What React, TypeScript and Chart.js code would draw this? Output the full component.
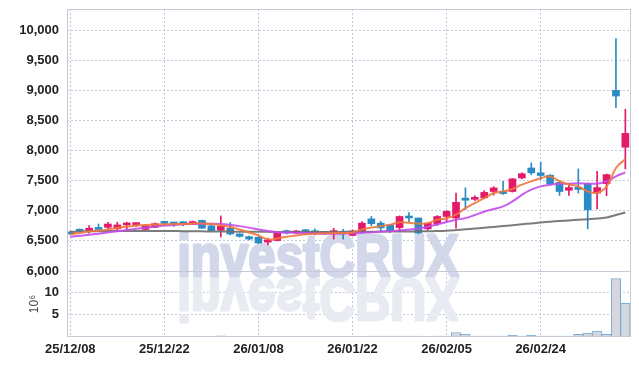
import React, { useEffect, useRef } from 'react';
import { Chart, registerables } from 'chart.js';

Chart.register(...registerables);

const tickIndex = [0, 10, 20, 30, 40, 50];
const tickLabels = ['25/12/08', '25/12/22', '26/01/08', '26/01/22', '26/02/05', '26/02/24'];
const priceTicks = [6000, 6500, 7000, 7500, 8000, 8500, 9000, 9500, 10000];
const volumeTicks = [5, 10];

const openP = [6640, 6690, 6660, 6710, 6725, 6700, 6765, 6770, 6690, 6725,
  6820, 6790, 6815, 6785, 6840, 6750, 6675, 6710, 6615, 6570,
  6560, 6480, 6505, 6670, 6630, 6685, 6645, 6650, 6620, 6650,
  6590, 6655, 6865, 6795, 6765, 6720, 6895, 6880, 6700, 6785,
  6905, 6880, 7210, 7190, 7215, 7320, 7320, 7320, 7545, 7710,
  7630, 7590, 7470, 7340, 7385, 7450, 7295, 7450, 9000, 8055];
const highP = [6660, 6700, 6755, 6780, 6810, 6810, 6810, 6795, 6770, 6800,
  6830, 6800, 6820, 6830, 6845, 6760, 6915, 6805, 6620, 6580,
  6570, 6545, 6635, 6680, 6675, 6690, 6700, 6660, 6710, 6690,
  6680, 6820, 6905, 6825, 6770, 6915, 6970, 6880, 6800, 6920,
  7000, 7295, 7380, 7250, 7335, 7400, 7490, 7535, 7630, 7795,
  7805, 7600, 7480, 7450, 7695, 7460, 7655, 7610, 9860, 8685];
const lowP = [6600, 6650, 6630, 6680, 6700, 6685, 6690, 6740, 6680, 6720,
  6780, 6740, 6750, 6780, 6705, 6660, 6565, 6600, 6560, 6515,
  6455, 6435, 6500, 6615, 6620, 6600, 6600, 6610, 6530, 6530,
  6585, 6630, 6750, 6670, 6640, 6650, 6810, 6620, 6680, 6755,
  6820, 6710, 7020, 7170, 7200, 7260, 7270, 7310, 7530, 7600,
  7520, 7430, 7255, 7255, 7295, 6700, 7030, 7250, 8710, 7695];
const closeP = [6615, 6660, 6710, 6690, 6780, 6765, 6780, 6780, 6750, 6785,
  6790, 6780, 6785, 6820, 6710, 6670, 6740, 6615, 6575, 6530,
  6465, 6515, 6625, 6630, 6665, 6620, 6635, 6620, 6670, 6620,
  6665, 6795, 6785, 6715, 6670, 6905, 6880, 6630, 6795, 6905,
  6990, 7140, 7175, 7200, 7305, 7380, 7285, 7530, 7615, 7630,
  7585, 7450, 7320, 7385, 7355, 7015, 7385, 7600, 8905, 8285];

const ma5 = [6610, 6630, 6655, 6670, 6690, 6715, 6740, 6755, 6765, 6770,
  6775, 6780, 6780, 6790, 6790, 6780, 6760, 6730, 6690, 6640,
  6590, 6525, 6540, 6570, 6590, 6610, 6620, 6625, 6630, 6630,
  6640, 6690, 6720, 6745, 6770, 6810, 6800, 6785, 6795, 6850,
  6875, 6935, 7045, 7128, 7210, 7295, 7322, 7362, 7433, 7488,
  7540, 7570, 7490, 7435, 7405, 7322, 7300, 7400, 7710, 7860];
const ma20 = [6570, 6585, 6600, 6620, 6640, 6660, 6680, 6700, 6720, 6740,
  6755, 6765, 6775, 6780, 6785, 6785, 6780, 6765, 6745, 6720,
  6690, 6665, 6645, 6640, 6635, 6630, 6625, 6620, 6620, 6620,
  6625, 6635, 6645, 6650, 6660, 6675, 6690, 6705, 6735, 6775,
  6815, 6850, 6878, 6930, 6985, 7028, 7072, 7155, 7265, 7350,
  7405, 7433, 7450, 7450, 7455, 7450, 7450, 7488, 7572, 7638];
const ma60 = [6650, 6655, 6660, 6662, 6664, 6665, 6665, 6665, 6665, 6665,
  6664, 6663, 6662, 6660, 6658, 6656, 6655, 6654, 6653, 6652,
  6651, 6650, 6649, 6648, 6648, 6648, 6648, 6648, 6649, 6650,
  6651, 6652, 6653, 6654, 6655, 6656, 6657, 6658, 6660, 6664,
  6670, 6680, 6692, 6705, 6718, 6732, 6746, 6760, 6775, 6790,
  6805, 6818, 6830, 6840, 6850, 6860, 6870, 6890, 6930, 6970];

const volume = [0.03, 0.03, 0.03, 0.03, 0.03, 0.03, 0.03, 0.03, 0.03, 0.03,
  0.03, 0.03, 0.03, 0.03, 0.03, 0.03, 0.25, 0.03, 0.03, 0.03,
  0.03, 0.03, 0.03, 0.03, 0.03, 0.03, 0.03, 0.03, 0.03, 0.03,
  0.03, 0.03, 0.2, 0.2, 0.2, 0.2, 0.2, 0.2, 0.03, 0.2,
  0.2, 1.0, 0.65, 0.2, 0.2, 0.2, 0.2, 0.4, 0.2, 0.4,
  0.2, 0.2, 0.2, 0.2, 0.6, 0.85, 1.3, 0.6, 13.0, 7.5];

const UP = '#e3196a';
const DOWN = '#2b8cc5';
const FONT = '"Liberation Sans", Arial, sans-serif';
const GRID = '#c2c7dc';

const watermarkPlugin = {
  id: 'watermark',
  beforeDatasetsDraw(chart: any) {
    const { ctx, chartArea } = chart;
    const cx = chartArea.left + 251;
    const by = 276;
    const sx = 0.82;
    ctx.save();
    ctx.font = `bold 60px ${FONT}`;
    ctx.textAlign = 'center';
    ctx.textBaseline = 'alphabetic';
    ctx.lineJoin = 'round';
    ctx.lineWidth = 3;
    ctx.save();
    ctx.translate(cx, by * 2 + 3);
    ctx.scale(sx, -1);
    ctx.fillStyle = '#e9ebf3';
    ctx.strokeStyle = '#e9ebf3';
    ctx.strokeText('investCRUX', 0, by);
    ctx.fillText('investCRUX', 0, by);
    ctx.restore();
    ctx.save();
    ctx.translate(cx, 0);
    ctx.scale(sx, 1);
    ctx.fillStyle = '#d2d7ea';
    ctx.strokeStyle = '#d2d7ea';
    ctx.strokeText('investCRUX', 0, by);
    ctx.fillText('investCRUX', 0, by);
    ctx.restore();
    ctx.restore();
  },
};

const framePlugin = {
  id: 'frame',
  afterDraw(chart: any) {
    const { ctx, chartArea } = chart;
    const { left, right, top, bottom } = chartArea;
    const sep = Math.round(chart.scales.y.bottom) + 0.5;
    ctx.save();
    ctx.strokeStyle = '#c6c9d6';
    ctx.lineWidth = 1;
    ctx.strokeRect(Math.round(left) + 0.5, Math.round(top) + 0.5, Math.round(right - left) - 1, Math.round(bottom - top) - 1);
    ctx.beginPath();
    ctx.moveTo(left, sep);
    ctx.lineTo(right, sep);
    ctx.stroke();
    ctx.restore();
  },
};

export default function App() {
  const ref = useRef<HTMLCanvasElement | null>(null);

  useEffect(() => {
    if (!ref.current) return;
    const idx = closeP.map((_, i) => i);
    const colors = idx.map((i) => (closeP[i] >= openP[i] ? UP : DOWN));
    const tickFont = { family: FONT, size: 13, weight: 'bold' as const };
    const fitLeft = (s: any) => {
      s.width = 67;
      s.paddingTop = 0;
      s.paddingBottom = 0;
    };

    const chart = new Chart(ref.current, {
      type: 'bar',
      data: {
        datasets: [
          {
            type: 'line',
            label: 'MA5',
            data: idx.map((i) => ({ x: i, y: ma5[i] })),
            borderColor: 'rgba(240,120,60,0.9)',
            borderWidth: 2,
            pointRadius: 0,
            tension: 0.4,
            yAxisID: 'y',
            order: 0,
          } as any,
          {
            type: 'line',
            label: 'MA20',
            data: idx.map((i) => ({ x: i, y: ma20[i] })),
            borderColor: 'rgba(195,75,235,0.9)',
            borderWidth: 2,
            pointRadius: 0,
            tension: 0.4,
            yAxisID: 'y',
            order: 0,
          },
          {
            type: 'line',
            label: 'MA60',
            data: idx.map((i) => ({ x: i, y: ma60[i] })),
            borderColor: 'rgba(110,110,110,0.9)',
            borderWidth: 2,
            pointRadius: 0,
            tension: 0.4,
            yAxisID: 'y',
            order: 0,
          },
          {
            type: 'bar',
            label: 'wick',
            data: idx.map((i) => ({ x: i, y: [lowP[i], highP[i]] })),
            backgroundColor: colors,
            barThickness: 1,
            grouped: false,
            yAxisID: 'y',
            order: 2,
          },
          {
            type: 'bar',
            label: 'body',
            data: idx.map((i) => ({ x: i, y: [openP[i], closeP[i]] })),
            backgroundColor: colors,
            barThickness: 7,
            minBarLength: 2,
            grouped: false,
            yAxisID: 'y',
            order: 1,
          },
          {
            type: 'bar',
            label: 'volume',
            data: idx.map((i) => ({ x: i, y: volume[i] })),
            backgroundColor: '#d6d6dd',
            borderColor: '#79acd6',
            borderWidth: 1,
            barPercentage: 1,
            categoryPercentage: 1,
            grouped: false,
            yAxisID: 'y2',
            order: 3,
          },
        ] as any,
      },
      options: {
        animation: false,
        responsive: true,
        maintainAspectRatio: false,
        events: [],
        layout: { padding: { left: 0, right: 8, top: 9, bottom: 5 } },
        plugins: { legend: { display: false }, tooltip: { enabled: false } },
        scales: {
          x: {
            type: 'linear',
            min: -0.35,
            max: 59.6,
            offset: false,
            afterBuildTicks: (s: any) => {
              s.ticks = tickIndex.map((v) => ({ value: v }));
            },
            afterFit: (s: any) => {
              s.height = 24;
            },
            ticks: {
              autoSkip: false,
              maxRotation: 0,
              padding: 5,
              color: '#222',
              font: tickFont,
              callback: (v: any) => {
                const k = tickIndex.indexOf(Number(v));
                return k >= 0 ? tickLabels[k] : '';
              },
            },
            grid: { color: GRID, drawTicks: false, offset: false },
            border: { display: false, dash: [2, 2] },
          },
          y: {
            type: 'linear',
            position: 'left',
            stack: 'v',
            stackWeight: 262,
            weight: 1,
            min: 6000,
            max: 10350,
            afterBuildTicks: (s: any) => {
              s.ticks = priceTicks.map((v) => ({ value: v }));
            },
            afterFit: fitLeft,
            ticks: {
              autoSkip: false,
              padding: 8,
              color: '#222',
              font: tickFont,
              callback: (v: any) => Number(v).toLocaleString('en-US'),
            },
            grid: { color: GRID, drawTicks: false },
            border: { display: false, dash: [2, 2] },
          },
          y2: {
            type: 'linear',
            position: 'left',
            stack: 'v',
            stackWeight: 66,
            weight: 0,
            min: 0,
            max: 14.7,
            afterBuildTicks: (s: any) => {
              s.ticks = volumeTicks.map((v) => ({ value: v }));
            },
            afterFit: fitLeft,
            ticks: {
              autoSkip: false,
              padding: 8,
              color: '#222',
              font: tickFont,
              callback: (v: any) => String(v),
            },
            title: {
              display: true,
              text: '10⁶',
              color: '#444',
              font: { family: '"Liberation Sans", sans-serif', size: 12 },
              padding: { top: 27, bottom: 0 },
            },
            grid: { color: GRID, drawTicks: false },
            border: { display: false, dash: [2, 2] },
          },
        } as any,
      },
      plugins: [watermarkPlugin, framePlugin],
    });
    return () => chart.destroy();
  }, []);

  return (
    <div style={{ position: 'fixed', left: 0, top: 0, width: 639, height: 366, background: '#fff' }}>
      <canvas ref={ref} />
    </div>
  );
}
